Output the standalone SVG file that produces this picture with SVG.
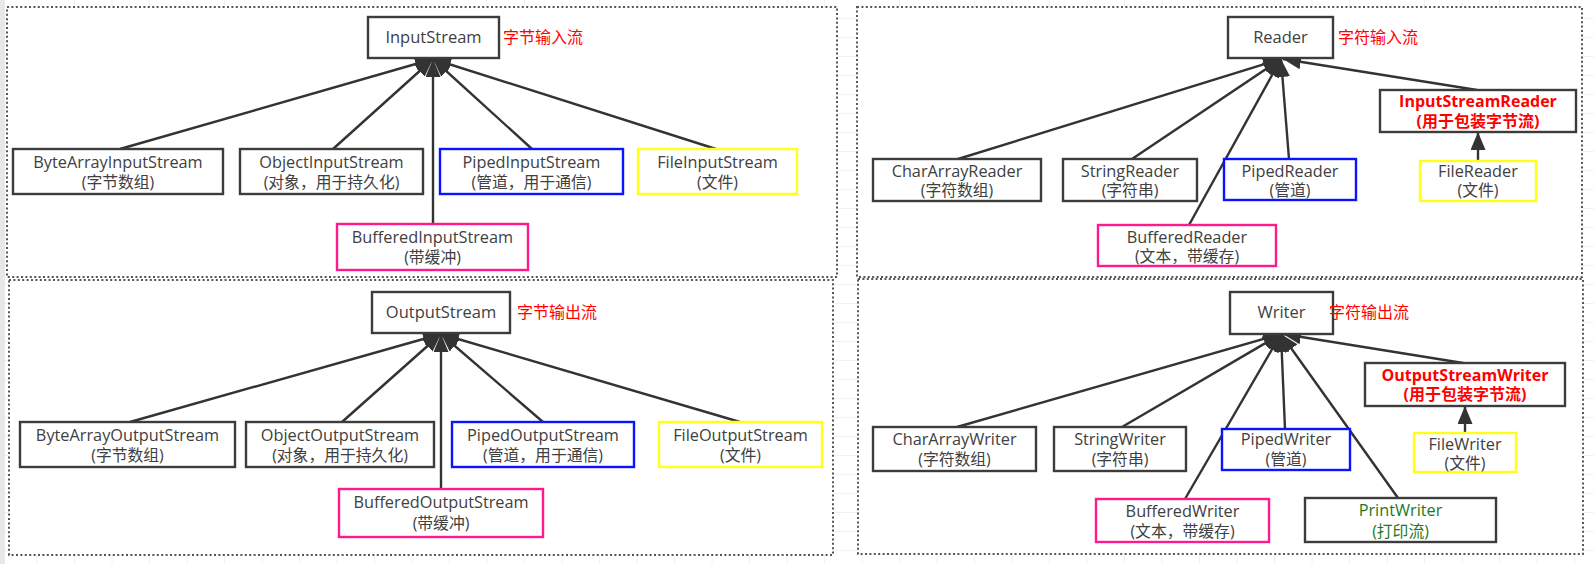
<svg xmlns="http://www.w3.org/2000/svg" width="1594" height="564" viewBox="0 0 1594 564">
<defs>
<pattern id="grid" width="37.5" height="19" patternUnits="userSpaceOnUse">
<path d="M37.5 0 V19 M0 19 H37.5" fill="none" stroke="#e6e6e6" stroke-width="1"/>
</pattern>
<marker id="tri" markerUnits="userSpaceOnUse" markerWidth="19" markerHeight="15" refX="18" refY="7.5" orient="auto">
<path d="M0,0 L18,7.5 L0,15 z" fill="#333"/>
</marker>
<style>
.panel{fill:#fff;stroke:#555;stroke-width:2;stroke-dasharray:2 2.4}
.box{fill:#fff;stroke:#3c3c3c;stroke-width:2.4}
.blue{fill:#fff;stroke:#0a14ff;stroke-width:2.4}
.yellow{fill:#fff;stroke:#ffff1a;stroke-width:2.4}
.pink{fill:#fff;stroke:#ff1a8c;stroke-width:2.4}
text{font-family:"Open Sans","Noto Sans CJK SC",sans-serif;font-size:16.3px;fill:#404040;text-anchor:middle}
.cn{font-size:15.8px}
.title{font-size:16.5px}
.red{fill:#ff0000;text-anchor:start;font-size:16px}
.bred{fill:#ff0000;font-weight:bold;font-size:16px}
.green{fill:#1e7a1e}
.conn line{stroke:#333;stroke-width:2.4;marker-end:url(#tri)}
</style>
</defs>
<rect width="1594" height="564" fill="#fff"/>
<rect width="1594" height="564" fill="url(#grid)"/>
<rect x="0" y="0" width="5" height="564" fill="#e8e8e8"/>

<g id="panels">
<rect class="panel" x="7" y="7" width="830" height="270"/>
<rect class="panel" x="857" y="7" width="725" height="270"/>
<rect class="panel" x="9" y="280" width="824" height="275"/>
<rect class="panel" x="858" y="279" width="725" height="275"/>
</g>

<g id="connectors" class="conn">
<line x1="120" y1="149" x2="433" y2="59"/>
<line x1="333" y1="149" x2="433" y2="59"/>
<line x1="433" y1="224" x2="433" y2="59"/>
<line x1="532" y1="149" x2="433" y2="59"/>
<line x1="716" y1="149" x2="433" y2="59"/>

<line x1="130" y1="422" x2="441" y2="334"/>
<line x1="342" y1="422" x2="441" y2="334"/>
<line x1="441" y1="489" x2="441" y2="334"/>
<line x1="543" y1="422" x2="441" y2="334"/>
<line x1="740" y1="422" x2="441" y2="334"/>

<line x1="958" y1="159" x2="1281" y2="59"/>
<line x1="1132" y1="159" x2="1281" y2="59"/>
<line x1="1189" y1="225" x2="1281" y2="59"/>
<line x1="1289" y1="159" x2="1281" y2="59"/>
<line x1="1477" y1="90" x2="1283" y2="59"/>
<line x1="1478" y1="161" x2="1478" y2="132"/>

<line x1="957" y1="427" x2="1281" y2="334"/>
<line x1="1122" y1="427" x2="1281" y2="334"/>
<line x1="1185" y1="499" x2="1281" y2="334"/>
<line x1="1285" y1="429" x2="1281" y2="334"/>
<line x1="1398" y1="498" x2="1281" y2="334"/>
<line x1="1463" y1="363" x2="1283" y2="334"/>
<line x1="1465" y1="433" x2="1465" y2="406"/>
</g>

<!-- Byte input -->
<g id="InputStream"><rect class="box" x="368" y="17" width="131" height="41"/><text class="title" x="433.5" y="43">InputStream</text></g>
<g id="label-byte-in"><text class="red" x="503" y="43">字节输入流</text></g>
<g id="ByteArrayInputStream"><rect class="box" x="13" y="149" width="210" height="45"/><text x="118" y="168">ByteArrayInputStream</text><text class="cn" x="118" y="188">(字节数组)</text></g>
<g id="ObjectInputStream"><rect class="box" x="240" y="149" width="183" height="45"/><text x="331.5" y="168">ObjectInputStream</text><text class="cn" x="331.5" y="188">(对象，用于持久化)</text></g>
<g id="PipedInputStream"><rect class="blue" x="440" y="149" width="183" height="45"/><text x="531.5" y="168">PipedInputStream</text><text class="cn" x="531.5" y="188">(管道，用于通信)</text></g>
<g id="FileInputStream"><rect class="yellow" x="638" y="149" width="159" height="45"/><text x="717.5" y="168">FileInputStream</text><text class="cn" x="717.5" y="188">(文件)</text></g>
<g id="BufferedInputStream"><rect class="pink" x="337" y="224" width="191" height="46"/><text x="432.5" y="243">BufferedInputStream</text><text class="cn" x="432.5" y="263">(带缓冲)</text></g>

<!-- Char input -->
<g id="Reader"><rect class="box" x="1228" y="17" width="105" height="41"/><text class="title" x="1280.5" y="43">Reader</text></g>
<g id="label-char-in"><text class="red" x="1338" y="43">字符输入流</text></g>
<g id="CharArrayReader"><rect class="box" x="873" y="159" width="168" height="42"/><text x="957" y="177">CharArrayReader</text><text class="cn" x="957" y="196">(字符数组)</text></g>
<g id="StringReader"><rect class="box" x="1063" y="159" width="134" height="42"/><text x="1130" y="177">StringReader</text><text class="cn" x="1130" y="196">(字符串)</text></g>
<g id="PipedReader"><rect class="blue" x="1224" y="159" width="132" height="41"/><text x="1290" y="177">PipedReader</text><text class="cn" x="1290" y="196">(管道)</text></g>
<g id="BufferedReader"><rect class="pink" x="1098" y="225" width="178" height="41"/><text x="1187" y="243">BufferedReader</text><text class="cn" x="1187" y="262">(文本，带缓存)</text></g>
<g id="InputStreamReader"><rect class="box" x="1380" y="90" width="196" height="42"/><text class="bred" x="1478" y="107">InputStreamReader</text><text class="bred" x="1478" y="127">(用于包装字节流)</text></g>
<g id="FileReader"><rect class="yellow" x="1420" y="161" width="116" height="40"/><text x="1478" y="177">FileReader</text><text class="cn" x="1478" y="196">(文件)</text></g>

<!-- Byte output -->
<g id="OutputStream"><rect class="box" x="372" y="292" width="138" height="41"/><text class="title" x="441" y="318">OutputStream</text></g>
<g id="label-byte-out"><text class="red" x="517" y="318">字节输出流</text></g>
<g id="ByteArrayOutputStream"><rect class="box" x="20" y="422" width="215" height="45"/><text x="127.5" y="441">ByteArrayOutputStream</text><text class="cn" x="127.5" y="461">(字节数组)</text></g>
<g id="ObjectOutputStream"><rect class="box" x="246" y="422" width="188" height="45"/><text x="340" y="441">ObjectOutputStream</text><text class="cn" x="340" y="461">(对象，用于持久化)</text></g>
<g id="PipedOutputStream"><rect class="blue" x="452" y="422" width="182" height="45"/><text x="543" y="441">PipedOutputStream</text><text class="cn" x="543" y="461">(管道，用于通信)</text></g>
<g id="FileOutputStream"><rect class="yellow" x="659" y="422" width="163" height="45"/><text x="740.5" y="441">FileOutputStream</text><text class="cn" x="740.5" y="461">(文件)</text></g>
<g id="BufferedOutputStream"><rect class="pink" x="339" y="489" width="204" height="48"/><text x="441" y="508">BufferedOutputStream</text><text class="cn" x="441" y="529">(带缓冲)</text></g>

<!-- Char output -->
<g id="Writer"><rect class="box" x="1230" y="292" width="103" height="42"/><text class="title" x="1281.5" y="318">Writer</text></g>
<g id="label-char-out"><text class="red" x="1329" y="318">字符输出流</text></g>
<g id="CharArrayWriter"><rect class="box" x="873" y="427" width="163" height="44"/><text x="954.5" y="445">CharArrayWriter</text><text class="cn" x="954.5" y="465">(字符数组)</text></g>
<g id="StringWriter"><rect class="box" x="1054" y="427" width="132" height="44"/><text x="1120" y="445">StringWriter</text><text class="cn" x="1120" y="465">(字符串)</text></g>
<g id="PipedWriter"><rect class="blue" x="1222" y="429" width="128" height="41"/><text x="1286" y="445">PipedWriter</text><text class="cn" x="1286" y="465">(管道)</text></g>
<g id="BufferedWriter"><rect class="pink" x="1096" y="499" width="173" height="43"/><text x="1182.5" y="517">BufferedWriter</text><text class="cn" x="1182.5" y="537">(文本，带缓存)</text></g>
<g id="PrintWriter"><rect class="box" x="1305" y="498" width="191" height="44"/><text class="green" x="1400.5" y="516">PrintWriter</text><text class="green cn" x="1400.5" y="537">(打印流)</text></g>
<g id="OutputStreamWriter"><rect class="box" x="1365" y="363" width="200" height="43"/><text class="bred" x="1465" y="381">OutputStreamWriter</text><text class="bred" x="1465" y="400">(用于包装字节流)</text></g>
<g id="FileWriter"><rect class="yellow" x="1414" y="433" width="102" height="39"/><text x="1465" y="450">FileWriter</text><text class="cn" x="1465" y="469">(文件)</text></g>
</svg>
